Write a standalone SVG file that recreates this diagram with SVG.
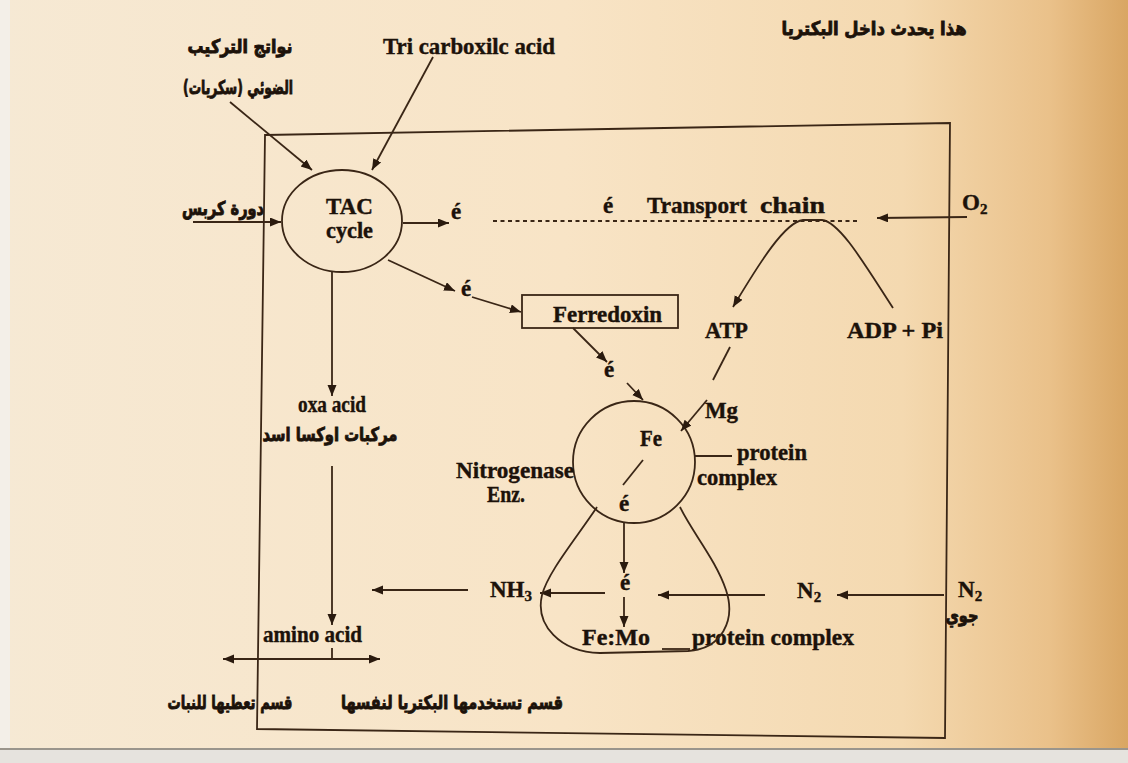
<svg xmlns="http://www.w3.org/2000/svg" width="1128" height="763" viewBox="0 0 1128 763">
<defs>
<linearGradient id="bg" x1="0" y1="0" x2="1" y2="0">
<stop offset="0" stop-color="#f6e9d4"/>
<stop offset="0.5" stop-color="#f8e4c6"/>
<stop offset="0.8" stop-color="#f4d9b0"/>
<stop offset="0.93" stop-color="#eac18a"/>
<stop offset="1" stop-color="#d9a663"/>
</linearGradient>
<marker id="ah" markerUnits="userSpaceOnUse" markerWidth="12" markerHeight="10" refX="11" refY="4.5" orient="auto-start-reverse">
<path d="M0,0 L11,4.5 L0,9 z" fill="#2a1a0e"/>
</marker>
<style>
.ln{stroke:#3a2616;stroke-width:1.8;fill:none}
.ar{stroke:#3a2616;stroke-width:1.8;fill:none;marker-end:url(#ah)}
.t{font-family:"Liberation Serif","Times New Roman",serif;font-weight:bold;font-size:23px;fill:#1c120a;stroke:#1c120a;stroke-width:0.4}
.a{font-family:"DejaVu Sans","Noto Sans",sans-serif;font-weight:bold;font-size:19px;fill:#1c120a;stroke:#1c120a;stroke-width:0.9;text-anchor:middle}
.s{font-size:15px}
</style>
</defs>
<rect x="0" y="0" width="1128" height="763" fill="url(#bg)"/>
<rect x="0" y="0" width="10" height="763" fill="#f3efe8"/>
<rect x="0" y="749" width="1128" height="14" fill="#e6e3de"/>
<line x1="0" y1="749" x2="1128" y2="749" stroke="#9a958c" stroke-width="2"/>

<g id="frame">
<polygon points="265,135 950,123 945,738 257,729" class="ln"/>
</g>

<g id="labels-top">
<text class="a" x="874" y="35" textLength="185" lengthAdjust="spacingAndGlyphs">هذا يحدث داخل البكتريا</text>
<text class="a" x="240" y="53" textLength="105" lengthAdjust="spacingAndGlyphs">نواتج التركيب</text>
<text class="a" x="238" y="94" textLength="110" lengthAdjust="spacingAndGlyphs">الضوئي (سكريات)</text>
<text class="t" x="383" y="54" textLength="172" lengthAdjust="spacingAndGlyphs">Tri carboxilc acid</text>
<text class="a" x="223" y="215" textLength="82" lengthAdjust="spacingAndGlyphs">دورة كربس</text>
</g>

<g id="tac">
<ellipse cx="342" cy="221" rx="60" ry="51" class="ln"/>
<text class="t" x="326" y="214" textLength="47" lengthAdjust="spacingAndGlyphs">TAC</text>
<text class="t" x="326" y="238" textLength="47" lengthAdjust="spacingAndGlyphs">cycle</text>
</g>

<g id="etc">
<text class="t" x="451" y="219">é</text>
<text class="t" x="461" y="296">é</text>
<text class="t" x="603" y="213">é</text>
<text class="t" x="647" y="213" textLength="100" lengthAdjust="spacingAndGlyphs">Transport</text>
<text class="t" x="760" y="213" textLength="65" lengthAdjust="spacingAndGlyphs">chain</text>
<text class="t" x="962" y="210">O<tspan class="s" dy="4">2</tspan></text>
<text class="t" x="705" y="338" textLength="43" lengthAdjust="spacingAndGlyphs">ATP</text>
<text class="t" x="847" y="338" textLength="96" lengthAdjust="spacingAndGlyphs">ADP + Pi</text>
</g>

<g id="ferredoxin">
<rect x="522" y="295" width="156" height="33" class="ln"/>
<text class="t" x="553" y="322" textLength="109" lengthAdjust="spacingAndGlyphs">Ferredoxin</text>
</g>

<g id="nitrogenase">
<circle cx="634" cy="462" r="61" class="ln"/>
<text class="t" x="640" y="446" textLength="22" lengthAdjust="spacingAndGlyphs">Fe</text>
<text class="t" x="619" y="511">é</text>
<text class="t" x="604" y="377">é</text>
<text class="t" x="705" y="418" textLength="33" lengthAdjust="spacingAndGlyphs">Mg</text>
<text class="t" x="737" y="460" textLength="70" lengthAdjust="spacingAndGlyphs">protein</text>
<text class="t" x="697" y="485" textLength="80" lengthAdjust="spacingAndGlyphs">complex</text>
<text class="t" x="456" y="478" textLength="118" lengthAdjust="spacingAndGlyphs">Nitrogenase</text>
<text class="t" x="487" y="502" textLength="38" lengthAdjust="spacingAndGlyphs">Enz.</text>
</g>

<g id="oxa">
<text class="t" x="298" y="412" textLength="68" lengthAdjust="spacingAndGlyphs">oxa acid</text>
<text class="a" x="330" y="441" textLength="135" lengthAdjust="spacingAndGlyphs">مركبات اوكسا اسد</text>
</g>

<g id="femo">
<text class="t" x="490" y="597">NH<tspan class="s" dy="4">3</tspan></text>
<text class="t" x="620" y="590">é</text>
<text class="t" x="797" y="598">N<tspan class="s" dy="4">2</tspan></text>
<text class="t" x="958" y="597">N<tspan class="s" dy="4">2</tspan></text>
<text class="a" x="962" y="622" textLength="33" lengthAdjust="spacingAndGlyphs">جوي</text>
<text class="t" x="582" y="645" textLength="68" lengthAdjust="spacingAndGlyphs">Fe:Mo</text>
<text class="t" x="692" y="645" textLength="162" lengthAdjust="spacingAndGlyphs">protein complex</text>
</g>

<g id="amino">
<text class="t" x="263" y="642" textLength="99" lengthAdjust="spacingAndGlyphs">amino acid</text>
<text class="a" x="230" y="709" textLength="125" lengthAdjust="spacingAndGlyphs">قسم تعطيها للنبات</text>
<text class="a" x="452" y="709" textLength="222" lengthAdjust="spacingAndGlyphs">قسم تستخدمها البكتريا لنفسها</text>
</g>

<g id="connectors">
<line x1="230" y1="102" x2="312" y2="170" class="ar"/>
<line x1="433" y1="57" x2="372" y2="170" class="ar"/>
<line x1="193" y1="222" x2="281" y2="222" class="ar"/>
<line x1="403" y1="223" x2="449" y2="223" class="ar"/>
<line x1="388" y1="260" x2="455" y2="291" class="ar"/>
<line x1="472" y1="297" x2="521" y2="312" class="ar"/>
<line x1="493" y1="221" x2="858" y2="221" stroke="#3a2616" stroke-width="1.8" stroke-dasharray="4,3.5"/>
<line x1="967" y1="217" x2="877" y2="218" class="ar"/>
<path d="M893,308 C865,265 840,222 822,220 L803,220 C785,222 760,262 733,307" class="ar"/>
<line x1="573" y1="328" x2="607" y2="362" class="ar"/>
<line x1="627" y1="383" x2="643" y2="400" class="ar"/>
<line x1="730" y1="347" x2="713" y2="380" class="ln"/>
<line x1="707" y1="400" x2="681" y2="431" class="ar"/>
<line x1="623" y1="485" x2="643" y2="460" class="ln"/>
<line x1="695" y1="456" x2="732" y2="456" class="ln"/>
<line x1="332" y1="272" x2="332" y2="396" class="ar"/>
<line x1="332" y1="466" x2="332" y2="625" class="ar"/>
<line x1="332" y1="648" x2="332" y2="659" class="ln"/>
<line x1="223" y1="659" x2="380" y2="659" class="ln" marker-start="url(#ah)" marker-end="url(#ah)"/>
<line x1="624" y1="523" x2="624" y2="573" class="ar"/>
<line x1="624" y1="597" x2="624" y2="627" class="ar"/>
<line x1="944" y1="595" x2="837" y2="595" class="ar"/>
<line x1="765" y1="595" x2="658" y2="595" class="ar"/>
<line x1="605" y1="593" x2="540" y2="593" class="ar"/>
<line x1="468" y1="590" x2="372" y2="590" class="ar"/>
<path d="M597,507 C575,540 548,572 542,595 C535,625 560,652 600,653 L688,651 C722,649 736,620 726,590 C716,560 692,532 680,507" class="ln"/>
<line x1="662" y1="649" x2="690" y2="649" class="ln"/>
</g>
</svg>
